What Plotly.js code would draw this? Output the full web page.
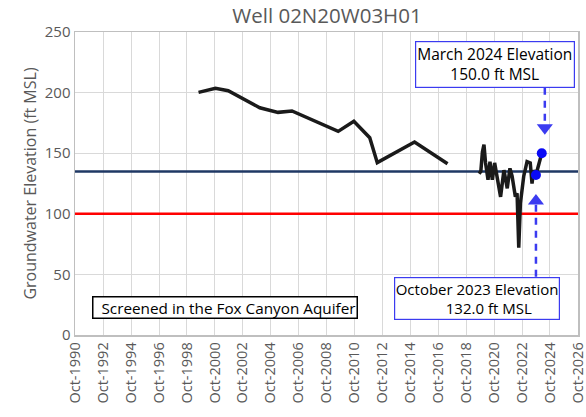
<!DOCTYPE html>
<html>
<head>
<meta charset="utf-8">
<script src="https://cdn.plot.ly/plotly-3.0.1.min.js"></script>
<style>html,body{margin:0;padding:0;background:#fff;}#chart{width:586px;height:417px;}</style>
</head>
<body>
<div id="chart"></div>
<script>
// Historical groundwater elevations (ft MSL)
const histDates = ['1999-08-01','2000-10-15','2001-09-15','2003-12-20','2005-04-10','2006-04-10','2009-08-01','2010-09-15','2011-11-05','2012-05-20','2015-01-20','2017-06-01'];
const histValues = [200.2, 203.5, 201.6, 187.5, 183.7, 184.8, 168.0, 176.3, 162.8, 142.2, 159.3, 141.3];

// Recent monitoring record
const recentDates = ['2019-09-05','2019-10-20','2019-11-30','2020-01-10','2020-02-20','2020-04-25','2020-06-15','2020-08-15','2020-10-15','2021-01-10','2021-03-20','2021-06-15','2021-09-10','2021-11-20','2022-01-15','2022-04-10','2022-05-25','2022-07-08','2022-08-20','2022-11-15','2023-02-10','2023-05-05','2023-06-20','2023-08-05','2023-10-01','2024-03-01'];
const recentValues = [133.0, 135.0, 151.0, 157.0, 142.0, 128.0, 143.0, 128.0, 142.0, 126.0, 114.0, 136.0, 121.0, 137.5, 131.0, 114.0, 117.0, 72.0, 108.6, 131.0, 143.0, 142.0, 125.0, 136.0, 132.0, 150.0];

// Highlighted measurements
const highlightDates = ['2023-10-01','2024-03-01'];
const highlightValues = [132.0, 150.0];

// Reference levels
const blueLevel = 135;
const redLevel = 100;

// Axis extents
const xRange = ['1990-09-25','2026-10-05'];

// Tick labels
const tickYears = [1990,1992,1994,1996,1998,2000,2002,2004,2006,2008,2010,2012,2014,2016,2018,2020,2022,2024,2026];
const tickVals = tickYears.map(y => y + '-10-01');
const tickText = tickYears.map(y => 'Oct-' + y);

const lineX = histDates.concat([null], recentDates);
const lineY = histValues.concat([null], recentValues);

const FONT = 'Open Sans, Noto Sans, sans-serif';
const GRAY = '#595959';
const ARROW = '#3b3bf0';

const traces = [
  {x: xRange, y: [blueLevel, blueLevel], mode: 'lines', line: {color: '#1f3864', width: 2.5}, hoverinfo: 'skip'},
  {x: xRange, y: [redLevel, redLevel], mode: 'lines', line: {color: '#ff0000', width: 2.5}, hoverinfo: 'skip'},
  {x: lineX, y: lineY, mode: 'lines', connectgaps: false,
   line: {color: '#1a1a1a', width: 3.5, shape: 'linear'}, hoverinfo: 'skip'},
  {x: highlightDates, y: highlightValues, mode: 'markers',
   marker: {color: '#0a0af5', size: 10}, hoverinfo: 'skip'},
  // dashed arrow shafts
  {x: ['2024-05-20','2024-05-20'], y: [204, 173], mode: 'lines',
   line: {color: ARROW, width: 2.5, dash: '7px,6px'}, hoverinfo: 'skip'},
  {x: ['2023-10-01','2023-10-01'], y: [48, 108], mode: 'lines',
   line: {color: ARROW, width: 2.5, dash: '7px,6px'}, hoverinfo: 'skip'},
  // arrow heads
  {x: ['2024-05-20'], y: [171], mode: 'markers',
   marker: {symbol: 'triangle-down', color: ARROW, size: 14}, hoverinfo: 'skip'},
  {x: ['2023-10-01'], y: [110.5], mode: 'markers',
   marker: {symbol: 'triangle-up', color: ARROW, size: 14}, hoverinfo: 'skip'}
];

const layout = {
  width: 586, height: 417,
  margin: {l: 75, r: 8, t: 32, b: 82},
  paper_bgcolor: '#fff', plot_bgcolor: '#fff',
  showlegend: false,
  font: {family: FONT, color: GRAY, size: 13},
  title: {text: 'Well 02N20W03H01', font: {family: FONT, size: 20.5, color: GRAY},
          x: 0.558, xanchor: 'center', yref: 'container', y: 0.963, yanchor: 'middle'},
  xaxis: {type: 'date', range: xRange,
          tickmode: 'array', tickvals: tickVals, ticktext: tickText,
          tickangle: -90, tickfont: {family: FONT, size: 14.5, color: GRAY},
          ticklabeloverflow: 'allow',
          showgrid: true, gridcolor: '#d9d9d9', gridwidth: 1,
          showline: true, linecolor: '#bfbfbf', linewidth: 1.5, mirror: true,
          ticks: '', zeroline: false, fixedrange: true},
  yaxis: {range: [0, 250], tickvals: [0,50,100,150,200,250],
          tickfont: {family: FONT, size: 15, color: GRAY},
          title: {text: 'Groundwater Elevation (ft MSL)', font: {family: FONT, size: 16, color: GRAY}, standoff: 4},
          showgrid: true, gridcolor: '#d9d9d9', gridwidth: 1,
          showline: true, linecolor: '#bfbfbf', linewidth: 1.5, mirror: true,
          ticks: '', zeroline: false, fixedrange: true},
  annotations: [
    {xref: 'paper', yref: 'paper', x: 0.994, y: 0.97, xanchor: 'right', yanchor: 'top',
     text: 'March 2024 Elevation<br>150.0 ft MSL', showarrow: false, align: 'center',
     font: {family: FONT, size: 15.5, color: '#000'},
     bgcolor: '#fff', bordercolor: ARROW, borderwidth: 1.2, borderpad: 1},
    {xref: 'paper', yref: 'paper', x: 0.634, y: 0.193, xanchor: 'left', yanchor: 'top',
     text: 'October 2023 Elevation<br>&nbsp;&nbsp;&nbsp;&nbsp;&nbsp;&nbsp;132.0 ft MSL', showarrow: false, align: 'center',
     font: {family: FONT, size: 15, color: '#000'},
     bgcolor: '#fff', bordercolor: ARROW, borderwidth: 1.2, borderpad: 0.5},
    {xref: 'paper', yref: 'paper', x: 0.034, y: 0.092, xanchor: 'left', yanchor: 'middle',
     text: '&nbsp;&nbsp;Screened in the Fox Canyon Aquifer', showarrow: false,
     font: {family: FONT, size: 15.3, color: '#000'},
     bgcolor: '#fff', bordercolor: '#000', borderwidth: 1.5, borderpad: 0}
  ]
};

Plotly.newPlot('chart', traces, layout, {displayModeBar: false, staticPlot: true});
</script>
</body>
</html>
